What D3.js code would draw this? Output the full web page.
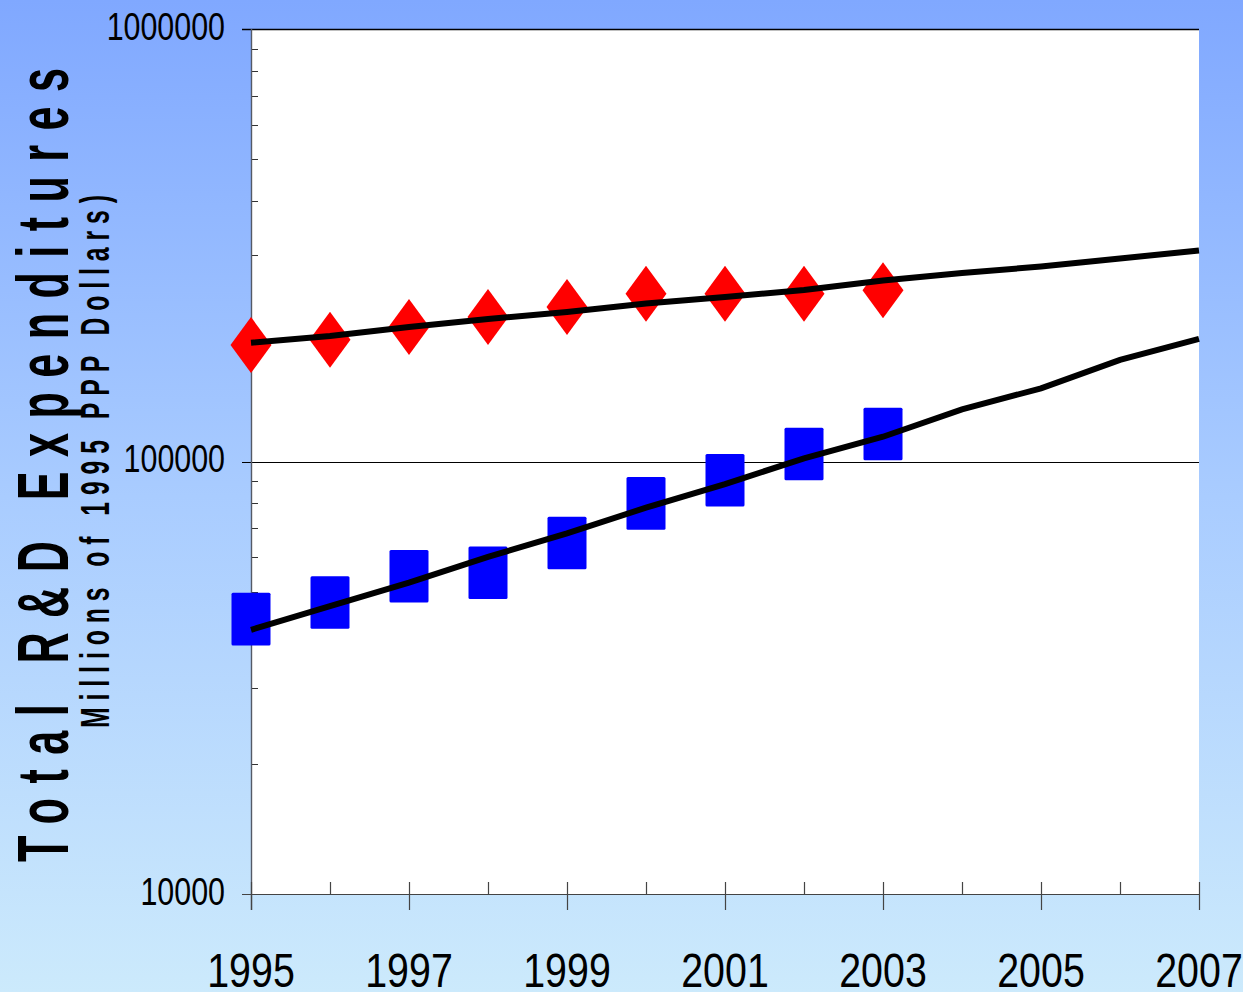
<!DOCTYPE html>
<html>
<head>
<meta charset="utf-8">
<script src="https://cdn.jsdelivr.net/npm/d3@7"></script>
<style>
  html, body { margin: 0; padding: 0; background: #fff; }
  svg { display: block; }
  text { font-family: "Liberation Sans", Arial, sans-serif; }
</style>
</head>
<body>
<svg id="chart" width="1243" height="992"></svg>
<script>
// Observed totals (millions of 1995 PPP dollars)
const obsYears   = [1995, 1996, 1997, 1998, 1999, 2000, 2001, 2002, 2003];
const redSeries  = [185900, 191200, 204600, 215900, 227700, 244300, 244300, 244300, 248700];
const blueSeries = [43200, 47200, 54300, 55300, 64800, 80000, 90500, 104100, 115800];

// Fitted trend lines, extended to 2007
const trendYears = [1995, 1996, 1997, 1998, 1999, 2000, 2001, 2002, 2003, 2004, 2005, 2006, 2007];
const redTrend   = [188200, 195100, 204600, 213500, 221600, 232000, 240100, 249200, 262100, 272800, 282400, 294700, 307500];
const blueTrend  = [40800, 46300, 52500, 60200, 68200, 78200, 88700, 101700, 114100, 132000, 147600, 171700, 192000];

// Axis ticks
const yearTicks    = [1995, 1996, 1997, 1998, 1999, 2000, 2001, 2002, 2003, 2004, 2005, 2006, 2007];
const yearLabels   = [1995, 1997, 1999, 2001, 2003, 2005, 2007];
const yMajorTicks  = [10000, 100000, 1000000];
const yMajorLabels = ["10000", "100000", "1000000"];

const titleText    = "Total R&D Expenditures";
const subtitleText = "Millions of 1995 PPP Dollars)";

const svg = d3.select("#chart");
const W = 1243, H = 992;
const plotL = 251, plotR = 1199, plotT = 29, plotB = 894;

const x = d3.scaleLinear().domain([1995, 2007]).range([plotL, plotR]);
const y = d3.scaleLog().domain([10000, 1000000]).range([plotB, plotT]);

// Background gradient
const defs = svg.append("defs");
const grad = defs.append("linearGradient").attr("id", "bg")
  .attr("x1", 0).attr("y1", 0).attr("x2", 0).attr("y2", 1);
grad.append("stop").attr("offset", "0%").attr("stop-color", "#80a8ff");
grad.append("stop").attr("offset", "50%").attr("stop-color", "#a9ccff");
grad.append("stop").attr("offset", "100%").attr("stop-color", "#cceafc");
svg.append("rect").attr("width", W).attr("height", H).attr("fill", "url(#bg)");

// Plot area
svg.append("rect")
  .attr("x", plotL).attr("y", plotT)
  .attr("width", plotR - plotL).attr("height", plotB - plotT)
  .attr("fill", "#ffffff");

// Minor log ticks (2..9 per decade), inside the plot
const minor = [];
[10000, 100000].forEach(d => { for (let k = 2; k <= 9; k++) minor.push(d * k); });
svg.append("g").selectAll("line").data(minor).join("line")
  .attr("x1", plotL).attr("x2", plotL + 7)
  .attr("y1", d => Math.round(y(d)) + 0.5).attr("y2", d => Math.round(y(d)) + 0.5)
  .attr("stroke", "#333").attr("stroke-width", 1);

// Major horizontal lines (decades), spanning the plot
svg.append("g").selectAll("line").data(yMajorTicks).join("line")
  .attr("x1", plotL - 9).attr("x2", plotR)
  .attr("y1", d => Math.round(y(d)) + 0.5).attr("y2", d => Math.round(y(d)) + 0.5)
  .attr("stroke", d => d === 10000 ? "#444" : "#000")
  .attr("stroke-width", d => d === 1000000 ? 1.6 : 1.2);

// Y axis line
svg.append("line")
  .attr("x1", plotL + 0.5).attr("x2", plotL + 0.5)
  .attr("y1", plotT).attr("y2", plotB + 16)
  .attr("stroke", "#555a66").attr("stroke-width", 1.4);

// X ticks: every year up into the plot, labelled years also below
svg.append("g").selectAll("line").data(yearTicks).join("line")
  .attr("x1", d => Math.round(x(d)) + 0.5).attr("x2", d => Math.round(x(d)) + 0.5)
  .attr("y1", plotB - 12)
  .attr("y2", d => yearLabels.includes(d) ? plotB + 16 : plotB)
  .attr("stroke", "#444").attr("stroke-width", 1.2);

// Y tick labels
svg.append("g").selectAll("text").data(yMajorTicks).join("text")
  .attr("transform", d => `translate(225,${y(d) + 10.5}) scale(0.8,1)`)
  .attr("text-anchor", "end")
  .attr("font-size", 38)
  .attr("fill", "#000")
  .text((d, i) => yMajorLabels[i]);

// X tick labels
svg.append("g").selectAll("text").data(yearLabels).join("text")
  .attr("transform", d => `translate(${x(d)},987) scale(0.82,1)`)
  .attr("text-anchor", "middle")
  .attr("font-size", 48)
  .attr("fill", "#000")
  .text(d => d);

// Markers: red diamonds
svg.append("g").selectAll("path").data(obsYears).join("path")
  .attr("d", (d, i) => {
    const cx = x(d), cy = y(redSeries[i]);
    return `M${cx},${cy - 28}L${cx + 20.5},${cy}L${cx},${cy + 28}L${cx - 20.5},${cy}Z`;
  })
  .attr("fill", "#ff0000");

// Markers: blue squares
svg.append("g").selectAll("rect").data(obsYears).join("rect")
  .attr("x", d => x(d) - 19.5)
  .attr("y", (d, i) => y(blueSeries[i]) - 26.3)
  .attr("width", 39).attr("height", 52.6)
  .attr("rx", 1.5)
  .attr("fill", "#0000ff");

// Trend lines
const line = d3.line().x(d => x(d[0])).y(d => y(d[1]));
[redTrend, blueTrend].forEach(series => {
  svg.append("path")
    .datum(trendYears.map((yr, i) => [yr, series[i]]))
    .attr("d", line)
    .attr("fill", "none")
    .attr("stroke", "#000")
    .attr("stroke-width", 6)
    .attr("stroke-linejoin", "miter");
});

// Axis title (rotated, bold, spaced)
const titleScale = 0.6;
svg.append("text")
  .attr("transform", `translate(68,862) rotate(-90) scale(${titleScale},1)`)
  .attr("font-size", 72)
  .attr("font-weight", "bold")
  .attr("fill", "#000")
  .attr("textLength", 794 / titleScale)
  .attr("lengthAdjust", "spacing")
  .text(titleText);

const subScale = 0.62;
svg.append("text")
  .attr("transform", `translate(109,728) rotate(-90) scale(${subScale},1)`)
  .attr("font-size", 40)
  .attr("font-weight", "bold")
  .attr("fill", "#000")
  .attr("textLength", 533 / subScale)
  .attr("lengthAdjust", "spacing")
  .text(subtitleText);
</script>
</body>
</html>
